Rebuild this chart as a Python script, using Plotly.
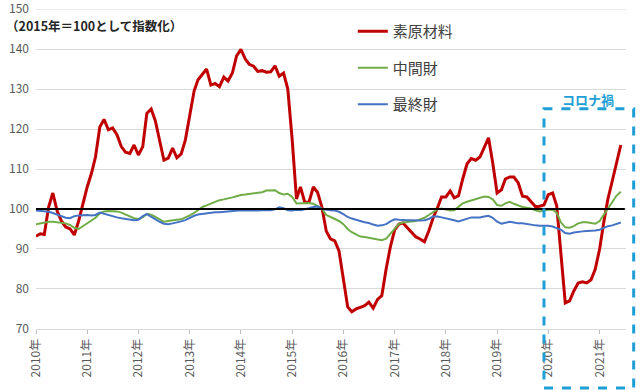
import pandas as pd
import plotly.graph_objects as go

# ---- data (monthly, Jan 2010 - Jun 2021), index 2015 = 100 ----
months = pd.date_range("2010-01-01", periods=138, freq="MS").strftime("%Y-%m-%d").tolist()

raw_materials = [
    93.2, 93.8, 93.6, 100.5, 104.0, 99.5, 97.0, 95.5, 95.0, 93.5, 97.0, 101.5,
    105.5, 109.0, 113.0, 120.5, 122.4, 119.8, 120.3, 118.6, 115.6, 114.2, 113.9, 116.0,
    113.5, 115.6, 123.9, 125.0, 122.0, 117.0, 112.2, 112.7, 115.2, 112.8, 113.8, 117.3,
    123.5, 129.5, 132.3, 133.8, 135.0, 131.0, 131.4, 130.6, 133.0, 132.0, 134.0, 138.3,
    139.9, 137.5, 136.2, 135.7, 134.4, 134.6, 134.2, 134.3, 135.8, 133.2, 134.0, 130.0,
    117.5, 102.5, 105.5, 101.7, 101.7, 105.5, 104.2, 100.5, 94.5, 92.5, 92.0, 89.5,
    83.0, 75.5, 74.3, 75.0, 75.4, 75.8, 76.7, 75.2, 77.4, 78.3, 85.0, 90.5,
    94.8, 96.2, 96.5, 95.3, 94.0, 93.0, 92.5, 91.8, 94.5, 97.7, 100.2, 103.0,
    103.0, 104.5, 102.8, 103.3, 107.5, 111.3, 112.6, 112.2, 113.0, 115.5, 117.8, 111.5,
    104.0, 104.8, 107.5, 108.0, 108.0, 106.5, 103.2, 103.0, 101.8, 100.6, 100.7, 101.0,
    103.6, 104.0, 100.8, 89.0, 76.5, 77.0, 79.5, 81.5, 81.8, 81.5, 82.3, 85.0,
    90.0, 97.0, 102.5, 107.0, 111.5, 116.0,
]

intermediate = [
    96.2, 96.4, 96.6, 96.8, 96.8, 96.7, 96.6, 96.4, 96.0, 95.3, 95.0, 95.7,
    96.3, 97.0, 97.8, 98.9, 99.4, 99.5, 99.5, 99.4, 99.1, 98.6, 98.0, 97.7,
    97.5, 97.9, 98.8, 98.6, 98.0, 97.3, 96.8, 97.0, 97.2, 97.3, 97.4, 97.8,
    98.4, 99.0, 99.8, 100.5, 100.9, 101.3, 101.7, 102.2, 102.4, 102.6, 102.9, 103.2,
    103.5, 103.6, 103.7, 103.8, 104.0, 104.2, 104.6, 104.7, 104.7, 104.0, 103.6, 103.8,
    103.0, 101.4, 101.4, 101.5, 101.5, 101.3, 100.8, 100.1, 98.5, 98.0, 97.5, 97.0,
    96.2, 95.0, 94.2, 93.6, 93.1, 93.0, 92.8, 92.5, 92.3, 92.2, 92.6, 93.8,
    95.3, 96.3, 96.6, 96.7, 96.8, 97.0, 97.4, 97.8, 98.5, 99.2, 99.9, 100.1,
    99.8, 99.6, 99.7, 100.5, 101.4, 101.8, 102.1, 102.5, 102.8, 103.1, 103.0, 102.4,
    101.0, 100.8, 101.4, 101.8, 101.3, 100.8, 100.5, 100.3, 100.1, 99.7, 99.4, 99.6,
    99.8, 99.8, 99.0, 96.6, 95.4, 95.3, 95.7, 96.4, 96.7, 96.7, 96.4, 96.3,
    97.0, 98.7, 100.3, 102.0, 103.3, 104.3,
]

final_goods = [
    99.6, 99.5, 99.3, 99.3, 99.0, 98.6, 98.3, 97.8, 97.7, 98.2, 98.4, 98.5,
    98.5, 98.4, 98.5, 99.1, 98.8, 98.4, 98.2, 97.9, 97.7, 97.5, 97.3, 97.2,
    97.3, 98.2, 98.7, 98.0, 97.3, 96.8, 96.3, 96.2, 96.4, 96.6, 96.9, 97.2,
    97.8, 98.3, 98.6, 98.8, 98.9, 99.1, 99.2, 99.2, 99.3, 99.3, 99.4, 99.6,
    99.7, 99.6, 99.6, 99.5, 99.6, 99.7, 99.7, 99.7, 99.9, 100.4, 100.2, 99.7,
    99.6, 99.8, 99.7, 99.9, 100.2, 100.5, 100.6, 100.0, 99.8, 99.7, 99.6, 99.3,
    98.7, 98.0, 97.6, 97.2, 97.0, 96.7, 96.5, 96.1, 95.8, 95.9, 96.2, 96.9,
    97.4, 97.3, 97.2, 97.2, 97.2, 97.1, 97.1, 97.2, 97.5, 98.1, 98.1, 97.9,
    97.7, 97.4, 97.2, 96.9, 97.2, 97.7, 97.9, 97.9, 97.9, 98.1, 98.3, 97.8,
    96.8, 96.3, 96.6, 96.8, 96.6, 96.4, 96.4, 96.2, 96.0, 95.9, 95.8, 95.8,
    95.8, 95.6, 95.3, 94.8, 94.0, 93.8, 94.1, 94.3, 94.4, 94.5, 94.5, 94.6,
    94.8, 95.3, 95.7, 95.9, 96.2, 96.6,
]

series_names = ["素原材料", "中間財", "最終財"]
year_ticks = [f"{y}-01-01" for y in range(2010, 2022)]
year_labels = [f"{y}年" for y in range(2010, 2022)]
y_ticks = list(range(70, 151, 10))
baseline = 100

colors = ["#C00000", "#70AD47", "#4472C4"]
widths = [3, 2, 2]

fig = go.Figure()
for name, vals, c, w in zip(series_names, [raw_materials, intermediate, final_goods], colors, widths):
    fig.add_trace(go.Scatter(
        x=months, y=vals, mode="lines", name=name, legendgroup=name,
        line=dict(color=c, width=w),
    ))

# top gridline (edge of plot area)
fig.add_shape(type="line", xref="paper", yref="y", x0=0, x1=1, y0=y_ticks[-1], y1=y_ticks[-1],
              line=dict(color="#D9D9D9", width=1), layer="below")

fig.add_shape(type="line", xref="paper", yref="y", x0=0, x1=0.998, y0=baseline, y1=baseline,
              line=dict(color="black", width=2.2), layer="above")

# コロナ禍 dashed box
fig.add_shape(type="rect", xref="paper", yref="paper", x0=0.861, x1=1.013, y0=-0.184, y1=0.688,
              line=dict(color="#1F9FD6", width=3, dash="dash"), fillcolor="rgba(0,0,0,0)")

fig.add_annotation(text="<b>コロナ禍</b>", xref="paper", yref="paper", x=0.936, y=0.718,
                   showarrow=False, font=dict(size=13, color="#1F9FD6", family="Noto Sans CJK JP"),
                   xanchor="center", yanchor="middle")

fig.add_annotation(text="<b>（2015年＝100として指数化）</b>", xref="paper", yref="paper",
                   x=-0.055, y=0.948, showarrow=False, xanchor="left", yanchor="middle",
                   font=dict(size=12.5, color="#262626", family="Noto Sans CJK JP"))

fig.update_layout(
    width=640, height=392,
    margin=dict(l=36, r=14, t=9, b=63),
    paper_bgcolor="white", plot_bgcolor="white",
    font=dict(family="Noto Sans CJK JP", color="#595959"),
    showlegend=True,
    legend=dict(x=0.537, y=0.981, xanchor="left", yanchor="top",
                font=dict(size=15, color="#404040"), tracegroupgap=14,
                bgcolor="rgba(0,0,0,0)", itemwidth=30),
    xaxis=dict(
        type="date", range=["2010-01-01", "2021-07-08"],
        tickvals=year_ticks, ticktext=year_labels, tickangle=-90,
        showgrid=False, showline=True, linecolor="#D9D9D9", linewidth=1,
        ticks="outside", ticklen=4, tickcolor="#BFBFBF", automargin=False,
        tickfont=dict(size=12, color="#595959"),
    ),
    yaxis=dict(
        range=[69.98, 150.02], tickvals=y_ticks, showgrid=True, gridcolor="#D9D9D9", gridwidth=1,
        zeroline=False, showline=False, ticks="", ticklabelstandoff=6,
        ticklabeloverflow="allow", automargin=False,
        tickfont=dict(size=12, color="#595959"),
    ),
)

fig.write_html("out.html", config={"displayModeBar": False},
               post_script="document.body.style.margin='0px';")
